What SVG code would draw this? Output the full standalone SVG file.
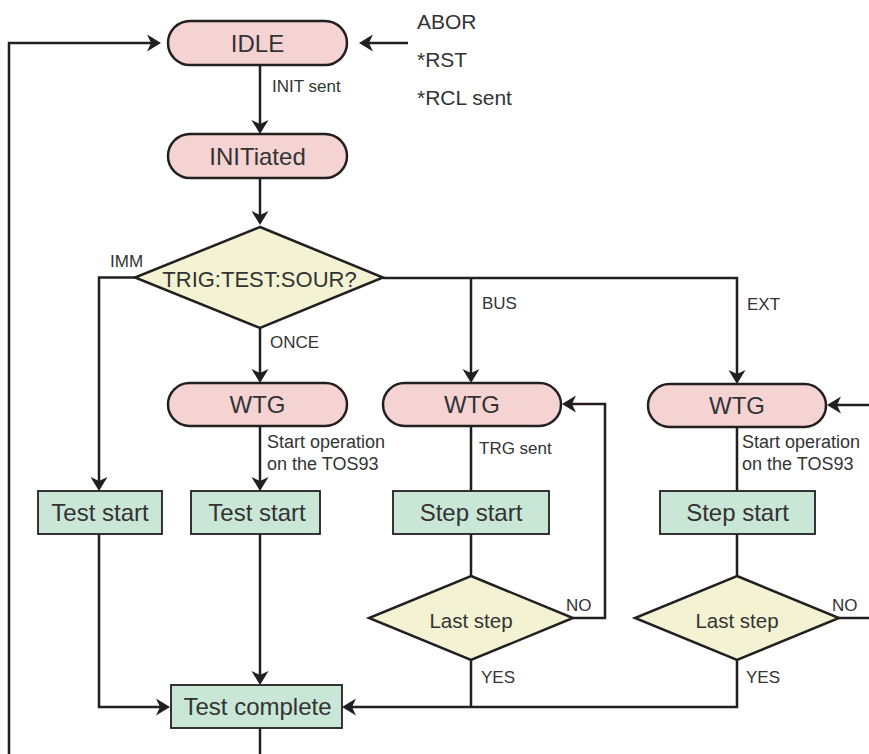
<svg xmlns="http://www.w3.org/2000/svg" width="869" height="754" viewBox="0 0 869 754">
<defs>
<style>
.pill{fill:#f6d3d3;stroke:#231f20;stroke-width:2.5}
.box{fill:#c9e6d6;stroke:#231f20;stroke-width:1.8}
.dia{fill:#f3f3d3;stroke:#231f20;stroke-width:2.5;stroke-linejoin:miter}
.ln{fill:none;stroke:#231f20;stroke-width:2.5}
.arr{marker-end:url(#ah)}
text{font-family:"Liberation Sans",Arial,sans-serif;fill:#333333}
.t{font-size:24px;text-anchor:middle}
.td{font-size:22px;text-anchor:middle}
.tl{font-size:20.5px;text-anchor:middle}
.s{font-size:17px}
.m{font-size:18px}
.b{font-size:21px}
</style>
<marker id="ah" viewBox="-15 -10 17 20" refX="-4" refY="0" markerWidth="17" markerHeight="20" markerUnits="userSpaceOnUse" orient="auto">
<path d="M0,0 L-14,-8.5 L-10,0 L-14,8.5 Z" fill="#231f20"/>
</marker>
</defs>
<rect width="869" height="754" fill="#ffffff"/>

<g id="connectors">
<path class="ln arr" d="M9,754 V43 H157"/>
<path class="ln arr" d="M408,43 H363"/>
<path class="ln arr" d="M260,65 V130"/>
<path class="ln arr" d="M260,178 V221"/>
<path class="ln arr" d="M135,277.5 H99 V487"/>
<path class="ln arr" d="M383,278 H737 V380"/>
<path class="ln arr" d="M471,278 V379"/>
<path class="ln arr" d="M260,328 V379"/>
<path class="ln arr" d="M260,426 V487"/>
<path class="ln arr" d="M260,534 V681"/>
<path class="ln arr" d="M99,534 V707 H166"/>
<path class="ln arr" d="M737,660 V707 H346"/>
<path class="ln" d="M471,660 V707"/>
<path class="ln" d="M471,426 V491 M471,534 V576"/>
<path class="ln arr" d="M573,618 H605 V404 H566"/>
<path class="ln" d="M737,427 V491 M737,534 V576"/>
<path class="ln" d="M839,618 H869"/>
<path class="ln arr" d="M869,405 H831"/>
<path class="ln" d="M260,728 V754"/>
</g>

<g id="idle">
<rect class="pill" x="168" y="21" width="179" height="44" rx="22"/>
<text class="t" x="257.5" y="52">IDLE</text>
</g>
<g id="initiated">
<rect class="pill" x="168" y="134" width="179" height="44" rx="22"/>
<text class="t" x="257.5" y="165">INITiated</text>
</g>
<g id="trig-source">
<polygon class="dia" points="260,227 383,277.5 260,328 135,277.5"/>
<text class="td" x="259.5" y="287">TRIG:TEST:SOUR?</text>
</g>
<g id="wtg-once">
<rect class="pill" x="168" y="383" width="179" height="43" rx="21.5"/>
<text class="t" x="257.5" y="413">WTG</text>
</g>
<g id="wtg-bus">
<rect class="pill" x="383" y="383" width="178" height="43" rx="21.5"/>
<text class="t" x="472" y="413">WTG</text>
</g>
<g id="wtg-ext">
<rect class="pill" x="648" y="384" width="178" height="43" rx="21.5"/>
<text class="t" x="737" y="414">WTG</text>
</g>
<g id="test-start-imm">
<rect class="box" x="38" y="491" width="124" height="43"/>
<text class="t" x="100" y="521">Test start</text>
</g>
<g id="test-start-once">
<rect class="box" x="191" y="491" width="129" height="43"/>
<text class="t" x="257" y="521">Test start</text>
</g>
<g id="step-start-bus">
<rect class="box" x="393" y="491" width="156" height="43"/>
<text class="t" x="471" y="521">Step start</text>
</g>
<g id="step-start-ext">
<rect class="box" x="660" y="491" width="155" height="43"/>
<text class="t" x="737.5" y="521">Step start</text>
</g>
<g id="last-step-bus">
<polygon class="dia" points="471,576 573,618 471,660 369,618"/>
<text class="tl" x="471" y="628">Last step</text>
</g>
<g id="last-step-ext">
<polygon class="dia" points="737,576 839,618 737,660 635,618"/>
<text class="tl" x="737" y="628">Last step</text>
</g>
<g id="test-complete">
<rect class="box" x="171" y="685" width="171" height="43"/>
<text class="t" x="257.5" y="715">Test complete</text>
</g>

<g id="labels">
<text class="b" x="417" y="29">ABOR</text>
<text class="b" x="417" y="67">*RST</text>
<text class="b" x="417" y="105">*RCL sent</text>
<text class="s" x="272" y="92">INIT sent</text>
<text class="s" x="110" y="267">IMM</text>
<text class="s" x="482" y="309">BUS</text>
<text class="s" x="747" y="310">EXT</text>
<text class="s" x="270" y="348">ONCE</text>
<text class="m" x="267" y="448">Start operation</text>
<text class="m" x="267" y="470">on the TOS93</text>
<text class="m" x="742" y="448">Start operation</text>
<text class="m" x="742" y="470">on the TOS93</text>
<text class="s" x="479" y="454">TRG sent</text>
<text class="s" x="566" y="611">NO</text>
<text class="s" x="832" y="611">NO</text>
<text class="s" x="481" y="683">YES</text>
<text class="s" x="746" y="683">YES</text>
</g>
</svg>
